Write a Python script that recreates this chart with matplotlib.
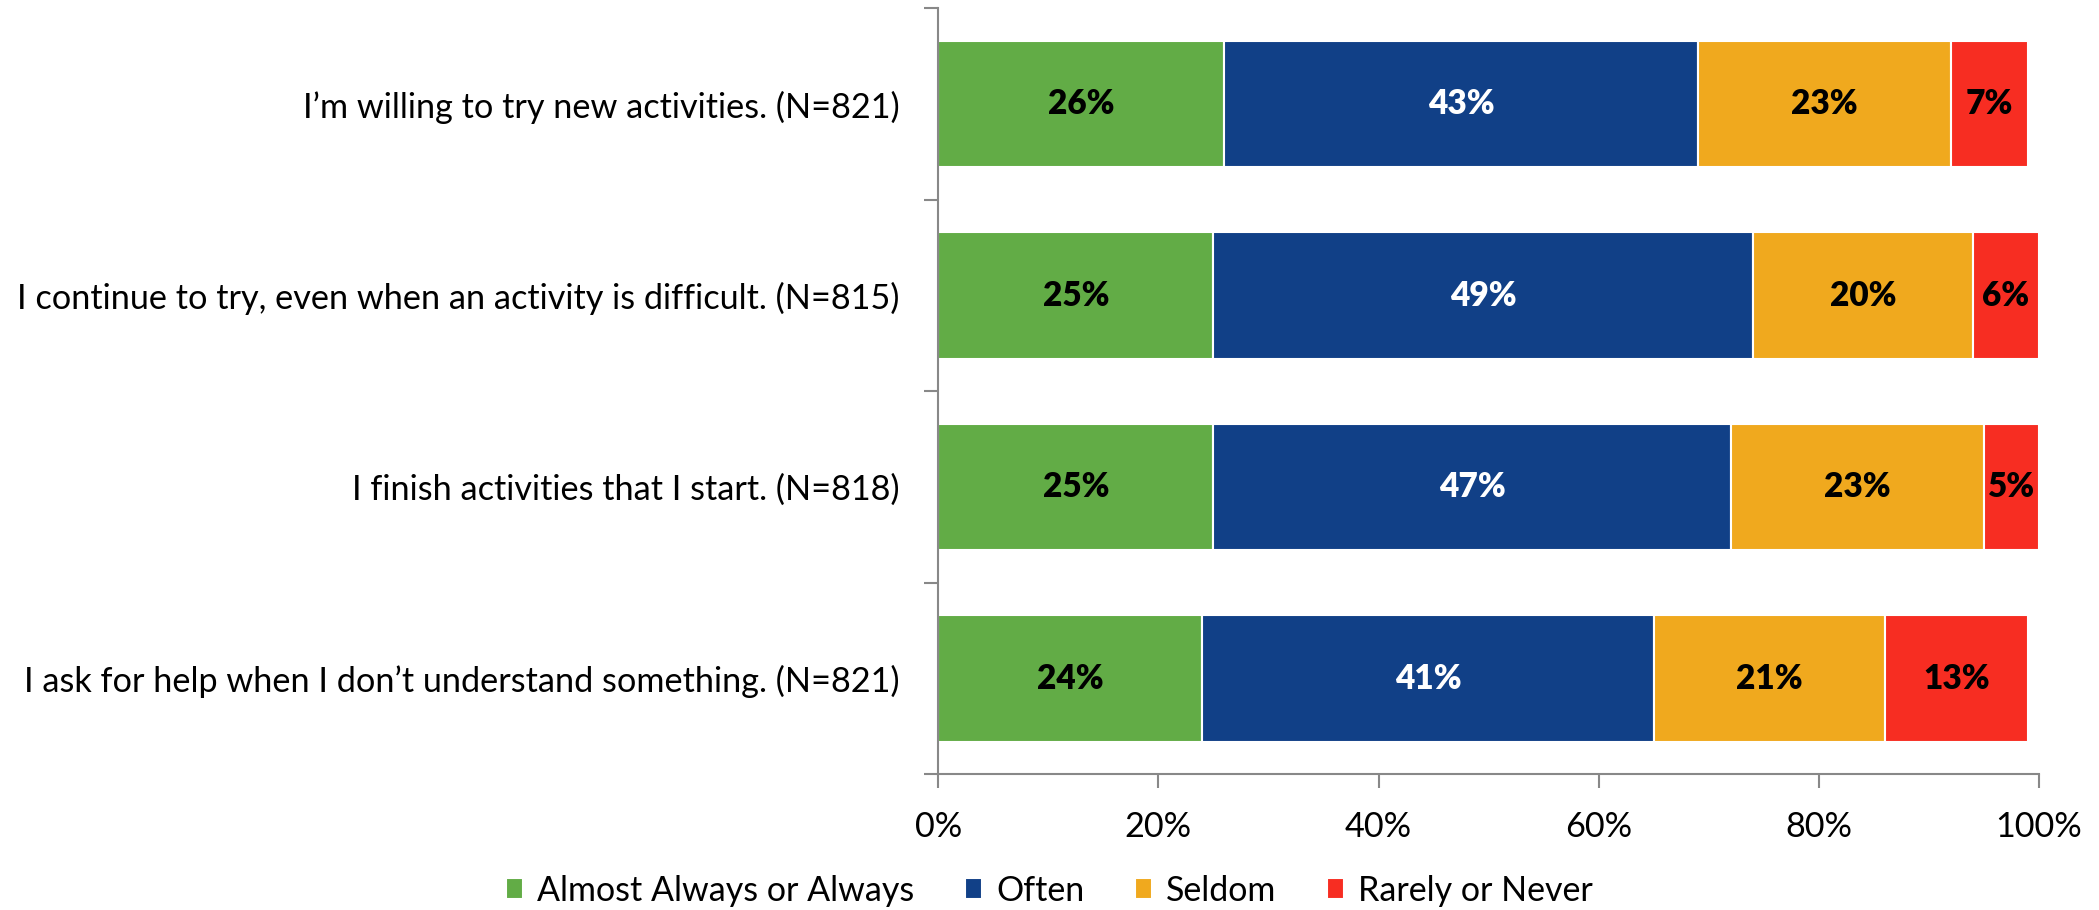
import matplotlib
matplotlib.use("Agg")
from matplotlib import pyplot as plt
from matplotlib.ticker import FixedLocator, PercentFormatter
import numpy as np

plt.rcParams['font.family'] = ['Lato', 'DejaVu Sans']

# statements, top to bottom
questions = [
    "I\u2019m willing to try new activities. (N=821)",
    "I continue to try, even when an activity is difficult. (N=815)",
    "I finish activities that I start. (N=818)",
    "I ask for help when I don\u2019t understand something. (N=821)",
]
series = ["Almost Always or Always", "Often", "Seldom", "Rarely or Never"]
almost_always = [26, 25, 25, 24]
often = [43, 49, 47, 41]
seldom = [23, 20, 23, 21]
rarely = [7, 6, 5, 13]

colors = ["#62AC46", "#114087", "#F0A91E", "#F72D22"]
text_colors = ["black", "white", "black", "black"]

fig = plt.figure(figsize=(20.99, 9.10), dpi=100)
ax = fig.add_axes([0.447, 0.149, 0.5244, 0.842])

y = np.arange(len(questions))
left = np.zeros(len(questions))
for vals, name, c, tc in zip([almost_always, often, seldom, rarely], series, colors, text_colors):
    vals = np.array(vals, dtype=float)
    bars = ax.barh(y, vals, left=left, height=0.66, color=c, edgecolor="white",
                   linewidth=1.5, label=name)
    for b, v in zip(bars, vals):
        ax.text(b.get_x() + b.get_width() / 2, b.get_y() + b.get_height() / 2,
                "%d%%" % v, ha="center", va="center", color=tc,
                fontsize=24, fontweight="heavy")
    left += vals

ax.set_xlim(0, 100)
ax.set_ylim(len(questions) - 0.5, -0.5)
ax.set_yticks(y)
ax.set_yticklabels(questions, fontsize=24.7)
ax.yaxis.set_minor_locator(FixedLocator(np.arange(-0.5, len(questions), 1)))
ax.tick_params(axis="y", which="major", length=0, pad=28)
ax.tick_params(axis="y", which="minor", length=10, color="#888888", width=1.5, direction="out")
ax.set_xticks([0, 20, 40, 60, 80, 100])
ax.xaxis.set_major_formatter(PercentFormatter(decimals=0))
ax.tick_params(axis="x", length=10, color="#888888", width=1.5, labelsize=24.7, pad=16)

for s in ["top", "right"]:
    ax.spines[s].set_visible(False)
for s in ["left", "bottom"]:
    ax.spines[s].set_color("#888888")
    ax.spines[s].set_linewidth(1.5)

fig.legend(loc="lower center", bbox_to_anchor=(0.5, -0.03), ncol=4, frameon=False,
           fontsize=24.5, handlelength=0.5, handleheight=0.6, handletextpad=0.4,
           columnspacing=1.5)

fig.savefig("out.png", dpi=100)
